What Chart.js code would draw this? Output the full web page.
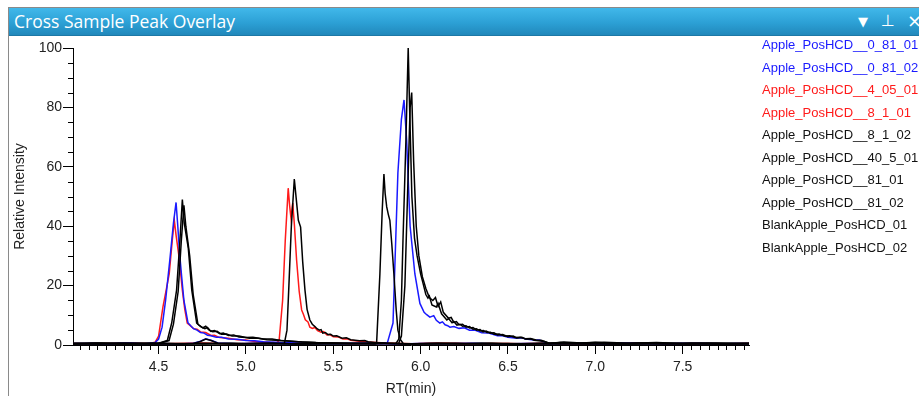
<!DOCTYPE html>
<html lang="en">
<head>
  <meta charset="UTF-8">
  <title>Cross Sample Peak Overlay</title>
  <script src="https://cdn.jsdelivr.net/npm/chart.js"></script>
  <style>
    body, html {
      margin: 0;
      padding: 0;
      overflow: hidden;
      width: 919px;
      height: 396px;
      background: #fff;
    }
    #frame {
      position: absolute;
      left: 8px; top: 7px; width: 911px; height: 389px;
      border-left: 1px solid #8a8a8a;
      border-top: 1px solid #8a8a8a;
      box-sizing: border-box;
    }
    #titlebar {
      position: absolute;
      left: 9px; top: 8px; width: 910px; height: 28px;
      background: linear-gradient(#41b8ea, #2ca0d5 55%, #2188bb);
      border-bottom: 1px solid #1d78a6;
      color: #fff;
      font-family: "Open Sans", sans-serif;
      font-size: 17.5px;
      line-height: 27px;
      box-sizing: border-box;
      padding-left: 5px;
    }
    .icon {
      position: absolute;
      color: #fff;
      font-family: "DejaVu Sans", sans-serif;
      line-height: 1;
    }
    canvas { position: absolute; left: 0; top: 0; }
    #legend {
      position: absolute;
      left: 762px; top: 34px;
      font-family: "Liberation Sans", Arial, sans-serif;
      font-size: 13px;
      line-height: 22.5px;
      white-space: nowrap;
    }
  </style>
</head>
<body>
  <div id="frame"></div>
  <div id="titlebar">Cross Sample Peak Overlay</div>
  <div class="icon" style="left:858px; top:15px; font-size:13px;">&#9660;</div>
  <div class="icon" style="left:881px; top:13px; font-size:16px;">&#8869;</div>
  <div class="icon" style="left:907px; top:12px; font-size:18px;">&#215;</div>
  <canvas id="chart" width="919" height="396"></canvas>
  <div id="legend"></div>

  <script>
    // sample names / colours (legend order)
    const seriesNames = [
      'Apple_PosHCD__0_81_01',
      'Apple_PosHCD__0_81_02',
      'Apple_PosHCD__4_05_01',
      'Apple_PosHCD__8_1_01',
      'Apple_PosHCD__8_1_02',
      'Apple_PosHCD__40_5_01',
      'Apple_PosHCD__81_01',
      'Apple_PosHCD__81_02',
      'BlankApple_PosHCD_01',
      'BlankApple_PosHCD_02'
    ];
    const seriesColors = ['#1a1aff', '#1a1aff', '#ff1a1a', '#ff1a1a', '#000', '#000', '#000', '#000', '#000', '#000'];

    // [RT (min), relative intensity]
    const trace_0_81_01 = [[4.01,0.4],[4.12,0.6],[4.22,0.3],[4.33,0.7],[4.42,0.4],[4.48,0.8],[4.50,2.0],[4.52,6],[4.54,15],[4.565,29],[4.585,41],[4.60,48],[4.61,40],[4.62,31],[4.632,23],[4.645,15],[4.668,7.5],[4.685,6.4],[4.70,5.5],[4.72,5.0],[4.74,4.2],[4.76,4.0],[4.78,3.3],[4.80,3.1],[4.83,2.6],[4.86,2.6],[4.90,2.0],[4.95,1.9],[5.00,1.5],[5.05,1.4],[5.10,1.1],[5.20,0.8],[5.35,0.6],[5.50,0.5],[5.65,0.6],[5.78,0.5],[5.81,0.8],[5.842,7.4],[5.87,58],[5.89,76],[5.905,82.5],[5.92,69],[5.94,40],[5.967,24],[5.996,14],[6.02,11],[6.035,10.2],[6.053,9.4],[6.075,9.9],[6.09,8.3],[6.11,7.4],[6.125,7.8],[6.14,6.8],[6.155,6.5],[6.168,6.0],[6.19,6.2],[6.22,5.6],[6.25,5.8],[6.28,5.0],[6.31,5.0],[6.35,4.1],[6.39,4.0],[6.44,3.1],[6.47,3.1],[6.50,2.6],[6.55,2.3],[6.58,2.4],[6.60,2.0],[6.65,1.7],[6.68,1.7],[6.70,1.2],[6.73,0.5],[6.85,0.6],[7.00,0.4],[7.15,0.7],[7.30,0.5],[7.45,0.3],[7.60,0.6],[7.75,0.4],[7.88,0.5]];
    const trace_0_81_02 = [[4.01,0.5],[4.15,0.3],[4.28,0.6],[4.40,0.4],[4.52,0.5],[4.62,0.3],[4.70,0.6],[4.74,1.3],[4.77,2.1],[4.80,1.6],[4.84,0.7],[4.95,0.4],[5.10,0.6],[5.25,0.3],[5.40,0.5],[5.55,0.4],[5.70,0.6],[5.85,0.3],[6.00,0.5],[6.15,0.4],[6.30,0.6],[6.45,0.3],[6.60,0.5],[6.75,0.4],[6.90,0.6],[7.05,0.3],[7.20,0.5],[7.35,0.4],[7.50,0.6],[7.65,0.3],[7.80,0.5],[7.88,0.4]];
    const trace_4_05_01 = [[4.01,0.3],[4.13,0.5],[4.25,0.4],[4.36,0.6],[4.45,0.5],[4.48,0.9],[4.50,3],[4.525,12.8],[4.545,19],[4.561,24],[4.578,35],[4.59,42],[4.60,37],[4.617,29.7],[4.636,18.5],[4.65,12],[4.664,7.4],[4.68,6.6],[4.70,5.5],[4.72,5.3],[4.74,4.4],[4.77,4.2],[4.80,3.2],[4.82,3.3],[4.85,2.5],[4.90,2.3],[4.95,1.8],[5.00,1.7],[5.05,1.2],[5.15,0.8],[5.30,0.5],[5.45,0.7],[5.60,0.4],[5.75,0.6],[5.90,0.3],[6.05,0.5],[6.20,0.6],[6.35,0.4],[6.50,0.5],[6.65,0.3],[6.80,0.6],[6.95,0.4],[7.10,0.5],[7.25,0.7],[7.40,0.4],[7.55,0.5],[7.70,0.3],[7.88,0.5]];
    const trace_8_1_01 = [[4.01,0.5],[4.15,0.4],[4.30,0.6],[4.45,0.3],[4.60,0.5],[4.75,0.7],[4.90,0.4],[5.05,0.5],[5.15,0.6],[5.17,0.5],[5.19,1.5],[5.21,15],[5.225,35],[5.242,52.8],[5.25,47],[5.258,42.7],[5.268,47.8],[5.278,40],[5.29,28.6],[5.305,18],[5.319,11.8],[5.33,10.2],[5.34,8.5],[5.355,7.8],[5.366,6.0],[5.38,5.6],[5.395,5.9],[5.41,4.8],[5.43,4.3],[5.445,4.5],[5.464,3.4],[5.48,3.5],[5.50,2.8],[5.53,2.7],[5.555,2.0],[5.58,2.1],[5.60,1.6],[5.65,1.3],[5.70,1.0],[5.80,0.7],[5.95,0.4],[6.10,0.6],[6.25,0.3],[6.40,0.5],[6.55,0.4],[6.70,0.6],[6.85,0.3],[7.00,0.5],[7.15,0.4],[7.30,0.6],[7.45,0.3],[7.60,0.5],[7.75,0.4],[7.88,0.5]];
    const trace_8_1_02 = [[4.01,0.4],[4.16,0.6],[4.31,0.3],[4.46,0.5],[4.61,0.4],[4.76,0.6],[4.91,0.3],[5.06,0.5],[5.18,0.4],[5.22,0.5],[5.235,5],[5.246,20],[5.26,40],[5.277,55.9],[5.29,48],[5.30,42],[5.313,39.7],[5.325,28],[5.338,18.5],[5.35,12],[5.366,8.4],[5.38,7.0],[5.395,6.2],[5.407,5.5],[5.42,5.0],[5.43,5.2],[5.44,4.0],[5.455,4.2],[5.47,3.5],[5.485,3.6],[5.50,3.0],[5.52,3.1],[5.55,2.3],[5.575,2.4],[5.60,1.8],[5.65,1.4],[5.68,1.5],[5.70,1.1],[5.75,0.8],[5.80,0.6],[5.95,0.4],[6.10,0.6],[6.25,0.4],[6.40,0.5],[6.55,0.3],[6.70,0.6],[6.85,0.4],[7.00,0.5],[7.15,0.3],[7.30,0.6],[7.45,0.4],[7.60,0.5],[7.75,0.3],[7.88,0.5]];
    const trace_40_5_01 = [[4.01,0.5],[4.16,0.3],[4.31,0.6],[4.46,0.4],[4.61,0.5],[4.76,0.3],[4.91,0.6],[5.06,0.4],[5.21,0.5],[5.36,0.3],[5.51,0.6],[5.66,0.4],[5.74,0.3],[5.748,0.5],[5.767,24],[5.78,45],[5.79,57.6],[5.797,51],[5.806,46.5],[5.815,44],[5.824,42],[5.835,34],[5.847,24],[5.86,12],[5.87,5],[5.885,1.8],[5.90,0.5],[6.05,0.4],[6.20,0.6],[6.35,0.3],[6.50,0.5],[6.65,0.4],[6.80,0.6],[6.95,0.3],[7.10,0.5],[7.25,0.4],[7.40,0.6],[7.55,0.3],[7.70,0.5],[7.88,0.4]];
    const trace_81_01 = [[4.01,0.6],[4.14,0.4],[4.27,0.7],[4.40,0.5],[4.50,0.6],[4.55,1.5],[4.575,7.4],[4.603,18.5],[4.622,35],[4.636,49],[4.647,41],[4.67,32.6],[4.69,18.5],[4.718,7.4],[4.735,6.5],[4.754,5.8],[4.77,6.3],[4.785,5.2],[4.80,4.6],[4.82,4.9],[4.85,3.8],[4.87,4.0],[4.90,3.2],[4.93,3.4],[4.96,2.7],[5.00,2.5],[5.04,2.6],[5.10,2.0],[5.15,2.0],[5.20,1.5],[5.30,1.1],[5.40,0.8],[5.55,0.6],[5.70,0.5],[5.86,0.6],[5.875,2],[5.89,15],[5.899,35],[5.916,69],[5.929,100],[5.937,80],[5.95,50],[5.965,36],[5.98,30],[6.00,24],[6.013,21],[6.03,17],[6.042,15.8],[6.05,16.5],[6.065,13.5],[6.09,12.8],[6.10,14],[6.12,10.5],[6.15,8.4],[6.16,8.9],[6.18,7.5],[6.19,7.9],[6.208,6.7],[6.225,7.0],[6.24,6.3],[6.26,6.5],[6.28,5.7],[6.30,5.9],[6.32,5.0],[6.34,5.2],[6.357,4.4],[6.375,4.7],[6.40,4.0],[6.42,4.1],[6.44,3.4],[6.47,3.5],[6.50,2.8],[6.53,3.0],[6.55,2.4],[6.58,2.6],[6.60,2.0],[6.63,2.1],[6.65,1.6],[6.70,1.3],[6.72,1.0],[6.74,0.5],[6.80,0.8],[6.90,0.6],[7.00,0.9],[7.10,0.5],[7.25,0.7],[7.40,0.5],[7.55,0.6],[7.70,0.4],[7.88,0.6]];
    const trace_81_02 = [[4.01,0.5],[4.14,0.7],[4.27,0.4],[4.40,0.6],[4.50,0.5],[4.56,1.5],[4.585,7],[4.612,18],[4.63,35],[4.645,47],[4.656,40],[4.678,30],[4.698,17],[4.725,7],[4.745,6],[4.765,5.5],[4.78,5.9],[4.795,4.9],[4.81,4.5],[4.835,4.6],[4.86,3.6],[4.89,3.7],[4.92,3.0],[4.96,3.0],[5.02,2.3],[5.07,2.3],[5.12,1.8],[5.22,1.4],[5.32,1.0],[5.45,0.7],[5.60,0.6],[5.75,0.5],[5.875,0.6],[5.89,3],[5.91,20],[5.925,50],[5.94,80],[5.949,85],[5.96,62],[5.975,40],[5.99,30],[6.01,23],[6.03,19],[6.05,16],[6.07,15],[6.085,16],[6.10,13],[6.115,14.5],[6.13,11],[6.16,9],[6.175,9.3],[6.19,7.6],[6.205,7.9],[6.22,6.8],[6.24,7.0],[6.26,6.0],[6.28,6.2],[6.30,5.3],[6.32,5.5],[6.34,4.7],[6.36,4.9],[6.38,4.2],[6.40,4.3],[6.42,3.6],[6.45,3.7],[6.48,3.0],[6.51,3.1],[6.54,2.5],[6.57,2.6],[6.60,2.1],[6.63,2.2],[6.66,1.7],[6.69,1.6],[6.71,1.2],[6.73,0.5],[6.82,1.0],[6.92,0.7],[7.05,0.9],[7.20,0.6],[7.35,0.8],[7.50,0.5],[7.65,0.7],[7.88,0.5]];
    const trace_blank_01 = [[4.01,0.4],[4.18,0.6],[4.35,0.3],[4.50,0.5],[4.62,0.4],[4.70,0.5],[4.74,1.2],[4.77,2.0],[4.80,1.5],[4.84,0.6],[5.00,0.4],[5.15,0.6],[5.30,0.3],[5.45,0.5],[5.60,0.4],[5.75,0.6],[5.90,0.3],[6.05,0.5],[6.20,0.4],[6.35,0.6],[6.50,0.3],[6.65,0.5],[6.80,0.4],[6.95,0.6],[7.10,0.3],[7.25,0.5],[7.40,0.4],[7.55,0.6],[7.70,0.3],[7.88,0.5]];
    const trace_blank_02 = [[4.01,0.3],[4.17,0.5],[4.33,0.4],[4.49,0.6],[4.65,0.3],[4.81,0.5],[4.97,0.4],[5.13,0.6],[5.29,0.3],[5.45,0.5],[5.61,0.4],[5.77,0.6],[5.93,0.3],[6.09,0.5],[6.25,0.4],[6.41,0.6],[6.57,0.3],[6.73,0.5],[6.89,0.4],[7.05,0.6],[7.21,0.3],[7.37,0.5],[7.53,0.4],[7.69,0.6],[7.88,0.4]];

    const traces = [trace_0_81_01, trace_0_81_02, trace_4_05_01, trace_8_1_01, trace_8_1_02,
                    trace_40_5_01, trace_81_01, trace_81_02, trace_blank_01, trace_blank_02];

    // axis settings
    const rtMin = 4.01, rtMax = 7.88;
    const xMajorStep = 0.5, xMinorStep = 0.05;
    const yMax = 100, yMajorStep = 20, yMinorStep = 5;

    // legend (plain text, coloured like the traces)
    const legendEl = document.getElementById('legend');
    seriesNames.forEach((name, i) => {
      const d = document.createElement('div');
      d.textContent = name;
      d.style.color = seriesColors[i] === '#000' ? '#111' : seriesColors[i];
      legendEl.appendChild(d);
    });

    // small minor tick marks on both axes
    const minorTicks = {
      id: 'minorTicks',
      afterDraw(chart) {
        const { ctx, chartArea, scales } = chart;
        ctx.save();
        ctx.strokeStyle = '#000';
        ctx.lineWidth = 1;
        ctx.beginPath();
        for (let k = Math.ceil(rtMin / xMinorStep); k * xMinorStep <= rtMax; k++) {
          if (k % Math.round(xMajorStep / xMinorStep) === 0) continue;
          const px = Math.round(scales.x.getPixelForValue(k * xMinorStep)) + 0.5;
          ctx.moveTo(px, chartArea.bottom);
          ctx.lineTo(px, chartArea.bottom + 5);
        }
        for (let v = 0; v <= yMax; v += yMinorStep) {
          if (v % yMajorStep === 0) continue;
          const py = Math.round(scales.y.getPixelForValue(v)) + 0.5;
          ctx.moveTo(chartArea.left - 5, py);
          ctx.lineTo(chartArea.left, py);
        }
        ctx.stroke();
        ctx.restore();
      }
    };

    const tickFont = { family: '"Liberation Sans", Arial, sans-serif', size: 14 };

    new Chart(document.getElementById('chart'), {
      type: 'line',
      data: {
        datasets: traces.map((tr, i) => ({
          label: seriesNames[i],
          data: tr.map(p => ({ x: p[0], y: p[1] })),
          borderColor: seriesColors[i],
          borderWidth: 1.5,
          pointRadius: 0,
          tension: 0,
          fill: false,
          order: seriesColors[i] === '#000' ? 0 : 1
        }))
      },
      options: {
        responsive: false,
        animation: false,
        layout: { padding: { left: 9, top: 48, right: 170, bottom: 0 } },
        plugins: {
          legend: { display: false },
          tooltip: { enabled: false }
        },
        scales: {
          x: {
            type: 'linear',
            min: rtMin,
            max: rtMax,
            afterFit: (scale) => { scale.height = 51; },
            border: { display: true, color: '#000', width: 1 },
            grid: { drawOnChartArea: false, drawTicks: true, tickLength: 9, tickColor: '#000' },
            ticks: {
              stepSize: xMajorStep,
              includeBounds: false,
              padding: 5,
              maxRotation: 0,
              color: '#222',
              font: tickFont,
              callback: (v) => Number(v).toFixed(1)
            },
            title: {
              display: true,
              text: 'RT(min)',
              color: '#222',
              font: tickFont,
              padding: { top: 0, bottom: -2 }
            }
          },
          y: {
            type: 'linear',
            min: 0,
            max: yMax,
            afterFit: (scale) => { scale.width = 64; },
            border: { display: true, color: '#000', width: 1 },
            grid: { drawOnChartArea: false, drawTicks: true, tickLength: 10, tickColor: '#000' },
            ticks: {
              stepSize: yMajorStep,
              padding: 1,
              color: '#222',
              font: tickFont
            },
            title: {
              display: true,
              text: 'Relative Intensity',
              color: '#222',
              font: tickFont,
              padding: { top: 3, bottom: 0 }
            }
          }
        }
      },
      plugins: [minorTicks]
    });
  </script>
</body>
</html>
